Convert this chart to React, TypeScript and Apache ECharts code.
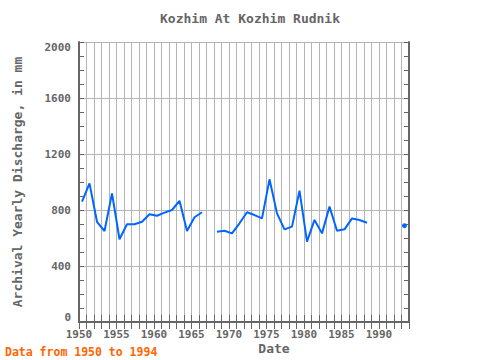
import React, { useEffect, useRef } from 'react';
import * as echarts from 'echarts';

const years: number[] = [
  1950, 1951, 1952, 1953, 1954, 1955, 1956, 1957, 1958, 1959,
  1960, 1961, 1962, 1963, 1964, 1965, 1966, 1967, 1968, 1969,
  1970, 1971, 1972, 1973, 1974, 1975, 1976, 1977, 1978, 1979,
  1980, 1981, 1982, 1983, 1984, 1985, 1986, 1987, 1988, 1989,
  1990, 1991, 1992, 1993,
];

const discharge: (number | null)[] = [
  860, 990, 716, 650, 919, 591, 698, 698, 716, 770,
  759, 781, 800, 866, 650, 748, 784, null, 645, 652,
  633, 705, 784, 764, 740, 1019, 776, 662, 681, 938,
  574, 729, 633, 824, 652, 662, 740, 729, 709, null,
  null, null, null, 688,
];

// observations are dated within the year (plotted slightly after Jan 1)
const dateOffsetInYear = 0.4;

const titleText = 'Kozhim At Kozhim Rudnik';
const yAxisTitle = 'Archival Yearly Discharge, in mm';
const xAxisTitle = 'Date';
const footerText = 'Data from 1950 to 1994';

const MONO = '"DejaVu Sans Mono", "Liberation Mono", monospace';
const AXIS = '#666666';
const GRID = '#b4b4b4';
const LINE = '#0066ff';

export default function App() {
  const ref = useRef<HTMLDivElement>(null);
  useEffect(() => {
    if (!ref.current) return;
    const chart = echarts.init(ref.current, null, { renderer: 'svg' });
    const data = years.map((y, i) => [y + dateOffsetInYear, discharge[i] == null ? null : discharge[i]]);
    const isolated = discharge.map(
      (v, i) =>
        v != null &&
        (i === 0 || discharge[i - 1] == null) &&
        (i === discharge.length - 1 || discharge[i + 1] == null)
    );

    const labelStyle = {
      color: AXIS,
      fontFamily: MONO,
      fontWeight: 'bold' as const,
      fontSize: 11,
    };

    chart.setOption({
      animation: false,
      grid: { left: 79, right: 71, top: 42, bottom: 38, containLabel: false },
      xAxis: [
        {
          type: 'value',
          position: 'bottom',
          min: 1950,
          max: 1994,
          interval: 1,
          axisLine: { show: true, lineStyle: { color: AXIS, width: 2 } },
          axisTick: { show: true, inside: true, length: 7, lineStyle: { color: AXIS, width: 1 } },
          splitLine: { show: true, lineStyle: { color: GRID, width: 1 } },
          axisLabel: {
            ...labelStyle,
            margin: 7,
            showMaxLabel: false,
            formatter: (v: number) => (v % 5 === 0 && v < 1994 ? String(v) : ''),
          },
        },
        {
          type: 'value',
          position: 'top',
          min: 1950,
          max: 1994,
          interval: 1,
          axisLine: { show: true, lineStyle: { color: AXIS, width: 2 } },
          axisTick: { show: true, inside: true, length: 7, lineStyle: { color: AXIS, width: 1 } },
          splitLine: { show: false },
          axisLabel: { show: false },
        },
      ],
      yAxis: [
        {
          type: 'value',
          position: 'left',
          min: 0,
          max: 2000,
          interval: 400,
          axisLine: { show: true, lineStyle: { color: AXIS, width: 2 } },
          axisTick: { show: true, inside: true, length: 5, lineStyle: { color: AXIS, width: 1 } },
          minorTick: { show: true, splitNumber: 4, length: 5, lineStyle: { color: AXIS, width: 1 } },
          splitLine: { show: true, lineStyle: { color: GRID, width: 1 } },
          axisLabel: {
            ...labelStyle,
            margin: 8,
            formatter: (v: number) =>
              v === 2000 ? '{mx|' + v + '}' : v === 0 ? '{mn|' + v + '}' : String(v),
            rich: {
              mx: { ...labelStyle, padding: [10, 0, 0, 0] },
              mn: { ...labelStyle, padding: [0, 0, 10, 0] },
            },
          },
        },
        {
          type: 'value',
          position: 'right',
          min: 0,
          max: 2000,
          interval: 400,
          axisLine: { show: true, lineStyle: { color: AXIS, width: 2 } },
          axisTick: { show: true, inside: true, length: 5, lineStyle: { color: AXIS, width: 1 } },
          minorTick: { show: true, splitNumber: 4, length: 5, lineStyle: { color: AXIS, width: 1 } },
          splitLine: { show: false },
          axisLabel: { show: false },
        },
      ],
      series: [
        {
          type: 'line',
          xAxisIndex: 0,
          yAxisIndex: 0,
          data,
          connectNulls: false,
          showSymbol: true,
          symbol: 'circle',
          symbolSize: (_v: any, p: any) => (isolated[p.dataIndex] ? 5 : 0),
          lineStyle: { color: LINE, width: 2 },
          itemStyle: { color: LINE },
          z: 5,
        },
      ],
      graphic: [
        {
          type: 'text',
          x: 250,
          y: 18,
          style: {
            text: titleText,
            fill: AXIS,
            font: `bold 13px ${MONO}`,
            textAlign: 'center',
            textVerticalAlign: 'middle',
          },
        },
        {
          type: 'text',
          x: 17,
          y: 182,
          rotation: Math.PI / 2,
          style: {
            text: yAxisTitle,
            fill: AXIS,
            font: `bold 13px ${MONO}`,
            textAlign: 'center',
            textVerticalAlign: 'middle',
          },
        },
        {
          type: 'text',
          x: 274,
          y: 348,
          style: {
            text: xAxisTitle,
            fill: AXIS,
            font: `bold 13px ${MONO}`,
            textAlign: 'center',
            textVerticalAlign: 'middle',
          },
        },
        {
          type: 'text',
          x: 5,
          y: 352,
          style: {
            text: footerText,
            fill: '#ff6600',
            font: `bold 11.5px ${MONO}`,
            textAlign: 'left',
            textVerticalAlign: 'middle',
          },
        },
      ],
    });
    return () => chart.dispose();
  }, []);
  return (
    <div
      ref={ref}
      style={{ position: 'absolute', left: 0, top: 0, width: 480, height: 360 }}
    />
  );
}
